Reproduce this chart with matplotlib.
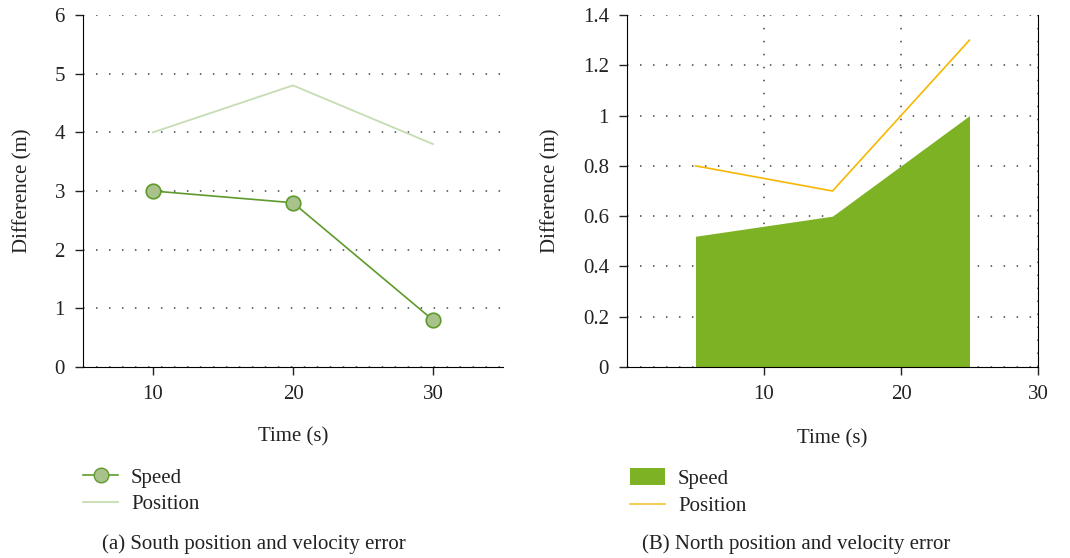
import matplotlib
matplotlib.use("Agg")
import matplotlib.pyplot as plt
from matplotlib.ticker import FuncFormatter
from matplotlib.patches import Patch
from matplotlib.lines import Line2D

plt.rcParams['font.family'] = ['Liberation Serif', 'DejaVu Serif']

# Data
south_time = [10, 20, 30]
south_speed = [3.0, 2.8, 0.8]
south_position = [4.0, 4.8, 3.8]

north_time = [5, 15, 25]
north_speed = [0.52, 0.6, 1.0]
north_position = [0.8, 0.7, 1.3]

left_xticks = [10, 20, 30]
left_yticks = [0, 1, 2, 3, 4, 5, 6]
right_xticks = [10, 20, 30]
right_yticks = [0, 0.2, 0.4, 0.6, 0.8, 1.0, 1.2, 1.4]

caption_a = "(a) South position and velocity error"
caption_b = "(B) North position and velocity error"

fig = plt.figure(figsize=(10.7, 5.58), dpi=100)
W, H = 1070, 558

def axes_px(l, r, t, b):
    return fig.add_axes([l / W, 1 - b / H, (r - l) / W, (b - t) / H])

fs = 15
tc = '#222222'
gridkw = dict(color='#444444', linestyle=(0, (1, 7.5)), linewidth=1.1)

# Left panel
ax1 = axes_px(83, 503, 15, 367)
ax1.plot(south_time, south_position, color='#c6dcb2', linewidth=1.3, label='Position', zorder=3)
ax1.plot(south_time, south_speed, color='#5e9a2c', linewidth=1.2, marker='o', markersize=10.5,
         markerfacecolor='#a9c28c', markeredgecolor='#5e9a2c', markeredgewidth=1.2, label='Speed', zorder=4)
ax1.set_xlim(5, 35)
ax1.set_ylim(0, 6)
ax1.set_xticks(left_xticks)
ax1.set_yticks(left_yticks)
ax1.yaxis.grid(True, **gridkw)
ax1.set_axisbelow(True)
for s in ['top', 'right']:
    ax1.spines[s].set_visible(False)
ax1.set_xlabel('Time (s)', fontsize=fs, labelpad=17, color=tc)
ax1.set_ylabel('Difference (m)', fontsize=fs, labelpad=16, color=tc)
ax1.tick_params(axis='both', labelsize=fs, length=6, width=1, colors=tc)
ax1.tick_params(axis='y', pad=7)
ax1.tick_params(axis='x', pad=7)

# Right panel
ax2 = axes_px(627, 1038, 15, 367)
ax2.fill_between(north_time, 0, north_speed, color='#7cb224', linewidth=0, zorder=2, label='Speed')
ax2.plot(north_time, north_position, color='#f5b800', linewidth=1.2, zorder=3, label='Position')
ax2.set_xlim(0, 30)
ax2.set_ylim(0, 1.4)
ax2.set_xticks(right_xticks)
ax2.set_yticks(right_yticks)
ax2.yaxis.set_major_formatter(FuncFormatter(lambda v, p: f"{v:g}"))
ax2.grid(True, **gridkw)
ax2.set_axisbelow(True)
ax2.spines['top'].set_visible(False)
ax2.set_xlabel('Time (s)', fontsize=fs, labelpad=18, color=tc)
ax2.set_ylabel('Difference (m)', fontsize=fs, labelpad=16, color=tc)
ax2.tick_params(axis='both', labelsize=fs, length=6, width=1, colors=tc)
ax2.tick_params(axis='y', pad=7)
ax2.tick_params(axis='x', pad=7)

# Legends
h1 = [Line2D([0], [0], color='#5e9a2c', linewidth=1.2, marker='o', markersize=10.5,
             markerfacecolor='#a9c28c', markeredgecolor='#5e9a2c'),
      Line2D([0], [0], color='#c6dcb2', linewidth=1.3)]
fig.legend(h1, ['Speed', 'Position'], loc='upper left', bbox_to_anchor=(83 / W, 1 - 468 / H),
           frameon=False, fontsize=fs, handlelength=1.7, handletextpad=0.6, labelspacing=0.33,
           borderaxespad=0, borderpad=0, labelcolor=tc)
h2 = [Patch(facecolor='#7cb224', edgecolor='none'),
      Line2D([0], [0], color='#f5c842', linewidth=1.3)]
fig.legend(h2, ['Speed', 'Position'], loc='upper left', bbox_to_anchor=(630 / W, 1 - 468 / H),
           frameon=False, fontsize=fs, handlelength=1.7, handleheight=0.85, handletextpad=0.6,
           labelspacing=0.35, borderaxespad=0, borderpad=0, labelcolor=tc)

fig.text(102 / W, 1 - 544 / H, caption_a, fontsize=fs, va='center', ha='left', color=tc)
fig.text(642 / W, 1 - 544 / H, caption_b, fontsize=fs, va='center', ha='left', color=tc)

fig.savefig('out.png', dpi=100)
